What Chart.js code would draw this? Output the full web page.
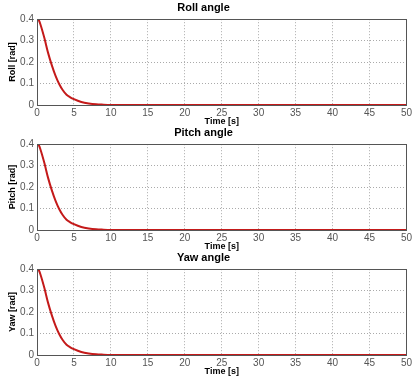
<!DOCTYPE html>
<html>
<head>
<meta charset="utf-8">
<script src="https://cdn.jsdelivr.net/npm/chart.js@4/dist/chart.umd.min.js"></script>
<style>
  body { margin: 0; background: #fff; }
  .panel { position: absolute; left: 0; width: 414px; height: 127px; }
</style>
</head>
<body>
<div class="panel" style="top:0"><canvas id="roll"></canvas></div>
<div class="panel" style="top:125px"><canvas id="pitch"></canvas></div>
<div class="panel" style="top:250px"><canvas id="yaw"></canvas></div>
<script>
// time samples [s] and angles [rad]
const timeS = [0, 0.25, 0.5, 1, 1.5, 2, 2.5, 3, 3.5, 4, 4.5, 5, 6, 7, 8, 9, 10, 12, 15, 20, 25, 30, 35, 40, 45, 50];
const rollValues  = [0.40, 0.395, 0.372, 0.312, 0.243, 0.186, 0.137, 0.098, 0.069, 0.048, 0.036, 0.027, 0.014, 0.007, 0.003, 0.0015, 0.0005, 0, 0, 0, 0, 0, 0, 0, 0, 0];
const pitchValues = [0.40, 0.395, 0.372, 0.312, 0.243, 0.186, 0.137, 0.098, 0.069, 0.048, 0.036, 0.027, 0.014, 0.007, 0.003, 0.0015, 0.0005, 0, 0, 0, 0, 0, 0, 0, 0, 0];
const yawValues   = [0.40, 0.395, 0.372, 0.312, 0.243, 0.186, 0.137, 0.098, 0.069, 0.048, 0.036, 0.027, 0.014, 0.007, 0.003, 0.0015, 0.0005, 0, 0, 0, 0, 0, 0, 0, 0, 0];

// caja completa alrededor del area de trazado (estilo MATLAB)
const boxPlugin = {
  id: 'box',
  afterDraw(chart) {
    const { ctx, chartArea: a } = chart;
    ctx.save();
    ctx.strokeStyle = '#555';
    ctx.lineWidth = 1;
    ctx.strokeRect(Math.round(a.left) + 0.5, Math.round(a.top) + 0.5,
                   Math.round(a.right - a.left), Math.round(a.bottom - a.top));
    ctx.restore();
  }
};

function makePanel(id, title, yLabel, values) {
  const ctx = document.getElementById(id).getContext('2d');
  return new Chart(ctx, {
    type: 'line',
    data: {
      datasets: [{
        data: timeS.map((t, i) => ({ x: t, y: values[i] })),
        borderColor: '#c41a1a',
        borderWidth: 2,
        pointRadius: 0,
        cubicInterpolationMode: 'monotone',
        fill: false
      }]
    },
    plugins: [boxPlugin],
    options: {
      responsive: true,
      maintainAspectRatio: false,
      animation: false,
      layout: { padding: { left: 0, right: 7, top: 0, bottom: 0 } },
      plugins: {
        legend: { display: false },
        tooltip: { enabled: false },
        title: {
          display: true,
          text: title,
          color: '#000',
          font: { family: 'Arial, Liberation Sans', size: 11, weight: 'bold' },
          padding: { top: 1, bottom: 5 }
        }
      },
      scales: {
        x: {
          type: 'linear',
          min: 0,
          max: 50,
          ticks: { stepSize: 5, color: '#555', padding: 2, maxRotation: 0,
                   font: { family: 'Arial, Liberation Sans', size: 10 } },
          grid: { color: '#aaa', drawTicks: false },
          border: { display: false, dash: [1, 2] },
          title: { display: true, text: 'Time [s]', color: '#000', padding: { top: 0, bottom: 0 },
                   font: { family: 'Arial, Liberation Sans', size: 9, weight: 'bold' } },
          afterFit(scale) { scale.height = 22; }
        },
        y: {
          min: 0,
          max: 0.4,
          ticks: { stepSize: 0.1, color: '#555', padding: 3,
                   font: { family: 'Arial, Liberation Sans', size: 10 } },
          grid: { color: '#aaa', drawTicks: false },
          border: { display: false, dash: [1, 2] },
          title: { display: true, text: yLabel, color: '#000', padding: { top: 7, bottom: 0 },
                   font: { family: 'Arial, Liberation Sans', size: 9, weight: 'bold' } },
          afterFit(scale) { scale.width = 37; }
        }
      }
    }
  });
}

makePanel('roll', 'Roll angle', 'Roll [rad]', rollValues);
makePanel('pitch', 'Pitch angle', 'Pitch [rad]', pitchValues);
makePanel('yaw', 'Yaw angle', 'Yaw [rad]', yawValues);
</script>
</body>
</html>
